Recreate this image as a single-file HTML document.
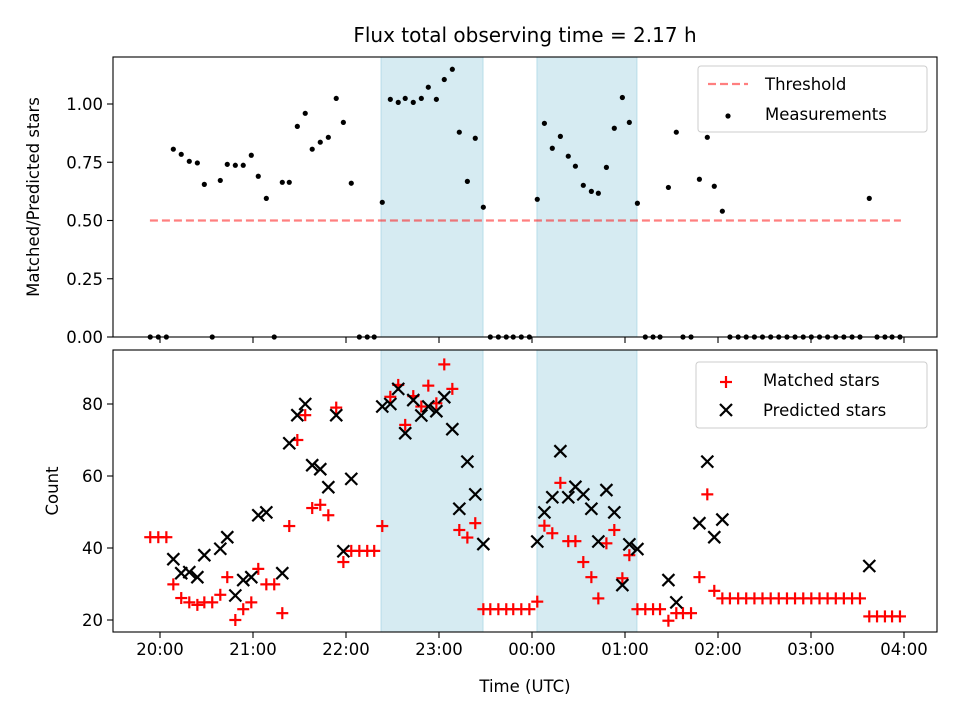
<!DOCTYPE html>
<html><head><meta charset="utf-8"><style>
html,body{margin:0;padding:0;background:#fff}
svg{display:block;font-family:"DejaVu Sans","Liberation Sans",sans-serif}
</style></head><body>
<svg id="chart" width="960" height="720" viewBox="0 0 960 720" xmlns="http://www.w3.org/2000/svg"></svg>
<script>
// minutes since 20:00 UTC
const ratioTimes=[-6.3,-1.1,4.1,8.6,13.7,18.9,24.1,28.6,33.7,38.9,43.4,48.6,53.7,58.9,63.4,68.6,73.7,78.9,83.4,88.6,93.7,98.2,103.4,108.6,113.7,118.3,123.4,128.6,133.7,138.2,143.4,148.6,153.7,158.2,163.4,168.6,173.1,178.3,183.4,188.6,193.1,198.3,203.4,208.6,213.1,218.3,223.4,227.9,233.1,238.3,243.4,248,253.1,258.3,263.4,268,273.1,278.3,282.8,288,293.1,298.3,302.8,308,313.1,318.1,322.6,328,333.1,337.4,342.6,348,353.1,357.6,362.8,367.7,373,378.2,383.5,388.7,394,399.2,404.5,409.7,415,420.2,425.5,430.7,436,441.2,446.5,451.6,457.6,462.6,467.7,472.3,477.4];
const ratioValues=[0,0,0,.806,.784,.754,.747,.655,0,.672,.741,.737,.737,.780,.690,.595,0,.664,.664,.904,.960,.806,.836,.857,1.024,.921,.660,0,0,0,.578,1.020,1.007,1.024,1.007,1.024,1.072,1.020,1.105,1.149,.879,.668,.853,.557,0,0,0,0,0,0,.591,.917,.810,.861,.776,.733,.651,.625,.617,.728,.896,1.028,.921,.574,0,0,0,.642,.879,0,0,.677,.857,.647,.540,0,0,0,0,0,0,0,0,0,0,0,0,0,0,0,0,0,.595,0,0,0,0];
const matchedTimes=[-6.3,-1.1,4.1,8.6,13.7,18.9,24.1,28.6,33.7,38.9,43.4,48.6,53.7,58.9,63.4,68.6,73.7,78.9,83.4,88.6,93.7,98.2,103.4,108.6,113.7,118.3,123.4,128.6,133.7,138.2,143.4,148.6,153.7,158.2,163.4,168.6,173.1,178.3,183.4,188.6,193.1,198.3,203.4,208.6,213.1,218.3,223.4,227.9,233.1,238.3,243.4,248,253.1,258.3,263.4,268,273.1,278.3,282.8,288,293.1,298.3,302.8,308,313.1,318.1,322.6,328,333.1,337.4,342.6,348,353.1,357.6,362.8,367.7,373,378.2,383.5,388.7,394,399.2,404.5,409.7,415,420.2,425.5,430.7,436,441.2,446.5,451.6,457.6,462.6,467.7,472.3,477.4];
const matchedValues=[43,43,43,29.9,26.1,24.9,24.2,24.9,24.9,27,31.9,20,23,24.9,34.2,29.9,29.9,21.9,46.1,70,76.9,51.1,52,49.1,79,36.1,39.2,39.2,39.2,39.2,46.1,82,85.3,74.2,82.2,79.3,85.1,80.2,91,84.2,45,42.9,46.9,23,23,23,23,23,23,23,25.1,46.2,44.1,58.1,41.9,41.9,36.1,31.9,26,41.3,45,31.6,38,23,23,23,23,19.8,21.9,21.9,21.9,31.9,54.9,28.1,26,26,26,26,26,26,26,26,26,26,26,26,26,26,26,26,26,26,21,21,21,21,21];
const predictedTimes=[8.6,13.7,18.9,24.1,28.6,38.9,43.4,48.6,53.7,58.9,63.4,68.6,78.9,83.4,88.6,93.7,98.2,103.4,108.6,113.7,118.3,123.4,143.4,148.6,153.7,158.2,163.4,168.6,173.1,178.3,183.4,188.6,193.1,198.3,203.4,208.6,243.4,248,253.1,258.3,263.4,268,273.1,278.3,282.8,288,293.1,298.3,302.8,308,328,333.1,348,353.1,357.6,362.8,457.6];
const predictedValues=[36.9,33,33.3,31.9,38,39.8,43,26.8,31.1,31.9,49.1,49.9,33,69.1,76.9,80,63,61.9,56.9,76.9,39.1,59.2,79.3,80,84.2,71.9,81.1,76.8,79.3,78,81.9,73,50.9,64,54.9,41.1,41.8,49.9,54.1,66.9,54.1,57,54.9,50.9,41.8,56.1,49.9,29.7,41,39.7,31.1,24.9,46.9,64,43,47.9,35];
const xTickValues=[0,60,120,180,240,300,360,420,480];
const xTickLabels=["20:00","21:00","22:00","23:00","00:00","01:00","02:00","03:00","04:00"];
const ratioTicks=[0,0.25,0.5,0.75,1.0];
const ratioTickLabels=["0.00","0.25","0.50","0.75","1.00"];
const countTicks=[20,40,60,80];
const spans=[[142.6,208.4],[243.2,307.7]];
const threshold=0.5;
const thresholdRange=[-6.5,478];

const NS="http://www.w3.org/2000/svg";
const svg=document.getElementById('chart');
const L=113,R=937;
const X=m=>160+m*93/60;
const Y1=v=>337-v*233;
const Y2=v=>620-(v-20)*3.6;
function el(tag,attrs,parent){const e=document.createElementNS(NS,tag);for(const k in attrs)e.setAttribute(k,attrs[k]);(parent||svg).appendChild(e);return e;}
function txt(s,attrs,parent){const t=el('text',attrs,parent);t.textContent=s;return t;}

const panels=[{top:57,bot:337,name:'ratio'},{top:350,bot:632,name:'count'}];
panels.forEach(p=>{
  const g=el('g',{});
  
  
  spans.forEach((s,i)=>{
    const r=el('rect',{x:X(s[0]),y:p.top,width:X(s[1])-X(s[0]),height:p.bot-p.top,fill:'#add8e6','fill-opacity':0.5,stroke:'#add8e6','stroke-opacity':0.8},g);
    
    
  });
});

// top panel
const thr=el('line',{x1:X(thresholdRange[0]),x2:X(thresholdRange[1]),y1:Y1(threshold),y2:Y1(threshold),stroke:'#ff0000','stroke-opacity':0.5,'stroke-width':2.2,'stroke-dasharray':'8 4'});


ratioTimes.forEach((t,i)=>{
  const c=el('circle',{cx:X(t),cy:Y1(ratioValues[i]),r:2.6,fill:'#000'});
  
  
});
// bottom panel
function plus(x,y){const g=el('g',{stroke:'#ff0000','stroke-width':2.2});el('line',{x1:x-6,x2:x+6,y1:y,y2:y},g);el('line',{x1:x,x2:x,y1:y-6,y2:y+6},g);return g;}
function cross(x,y){const g=el('g',{stroke:'#000','stroke-width':2.2});el('line',{x1:x-6,x2:x+6,y1:y-6,y2:y+6},g);el('line',{x1:x-6,x2:x+6,y1:y+6,y2:y-6},g);return g;}
matchedTimes.forEach((t,i)=>{
  const g=plus(X(t),Y2(matchedValues[i]));
  
  
});
predictedTimes.forEach((t,i)=>{
  const g=cross(X(t),Y2(predictedValues[i]));
  
  
});

// axes frames & ticks
panels.forEach((p,pi)=>{
  const f=el('rect',{x:L,y:p.top,width:R-L,height:p.bot-p.top,fill:'none',stroke:'#000','stroke-width':1.1});
  
  
  xTickValues.forEach((v,i)=>{
    el('line',{x1:X(v),x2:X(v),y1:p.bot,y2:p.bot+6,stroke:'#000','stroke-width':1.1});
    if(pi===1){const t=txt(xTickLabels[i],{x:X(v),y:p.bot+23,'text-anchor':'middle','font-size':16.5,fill:'#000'});
      
      }
  });
});
ratioTicks.forEach((v,i)=>{
  el('line',{x1:L-6,x2:L,y1:Y1(v),y2:Y1(v),stroke:'#000','stroke-width':1.1});
  const t=txt(ratioTickLabels[i],{x:L-10,y:Y1(v)+6,'text-anchor':'end','font-size':16.5});
  
  
});
countTicks.forEach(v=>{
  el('line',{x1:L-6,x2:L,y1:Y2(v),y2:Y2(v),stroke:'#000','stroke-width':1.1});
  const t=txt(String(v),{x:L-10,y:Y2(v)+6,'text-anchor':'end','font-size':16.5});
  
  
});
</script>
<svg style="position:absolute;left:0;top:0" width="960" height="720">
  <text x="525" y="42" text-anchor="middle" font-size="20" font-family="DejaVu Sans, sans-serif">Flux total observing time = 2.17 h</text>
  <text transform="translate(39,197) rotate(-90)" text-anchor="middle" font-size="16.5" font-family="DejaVu Sans, sans-serif">Matched/Predicted stars</text>
  <text transform="translate(58,491) rotate(-90)" text-anchor="middle" font-size="16.5" font-family="DejaVu Sans, sans-serif">Count</text>
  <text x="525" y="692" text-anchor="middle" font-size="16.5" font-family="DejaVu Sans, sans-serif">Time (UTC)</text>
  <g font-family="DejaVu Sans, sans-serif" font-size="16.5">
    <rect x="698" y="66" width="229" height="66" rx="3" fill="#fff" fill-opacity="0.8" stroke="#ccc"/>
    <line x1="708" x2="748" y1="84" y2="84" stroke="#ff0000" stroke-opacity="0.5" stroke-width="2.2" stroke-dasharray="8 4"/>
    <text x="765" y="90">Threshold</text>
    <circle cx="728" cy="116" r="2.6" fill="#000"/>
    <text x="765" y="120">Measurements</text>
  </g>
  <g font-family="DejaVu Sans, sans-serif" font-size="16.5">
    <rect x="696" y="362" width="231" height="66" rx="3" fill="#fff" fill-opacity="0.8" stroke="#ccc"/>
    <g stroke="#ff0000" stroke-width="2.2"><line x1="720" x2="732" y1="382" y2="382"/><line x1="726" x2="726" y1="376" y2="388"/></g>
    <text x="763" y="386">Matched stars</text>
    <g stroke="#000" stroke-width="2.2"><line x1="720" x2="732" y1="404" y2="416"/><line x1="720" x2="732" y1="416" y2="404"/></g>
    <text x="763" y="416">Predicted stars</text>
  </g>
</svg>
</body></html>
